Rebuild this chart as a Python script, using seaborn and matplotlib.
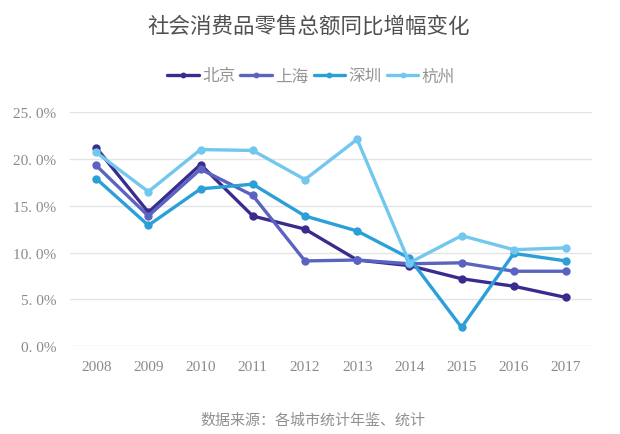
import pandas as pd
import matplotlib.pyplot as plt
import seaborn as sns

# 数据
years = [2008, 2009, 2010, 2011, 2012, 2013, 2014, 2015, 2016, 2017]
cities = ['北京', '上海', '深圳', '杭州']
beijing = [21.2, 14.3, 19.4, 13.9, 12.5, 9.2, 8.6, 7.2, 6.4, 5.2]
shanghai = [19.3, 13.9, 18.9, 16.1, 9.1, 9.2, 8.8, 8.9, 8.0, 8.0]
shenzhen = [17.9, 12.9, 16.8, 17.3, 13.9, 12.3, 9.4, 2.0, 9.9, 9.1]
hangzhou = [20.7, 16.5, 21.0, 20.9, 17.8, 22.1, 8.9, 11.8, 10.3, 10.5]
colors = ['#3a2c8e', '#5a63bf', '#2a9fd8', '#72c7ee']
yticks = [0, 5, 10, 15, 20, 25]

df = pd.DataFrame({'year': years * 4,
                   'city': sum([[c] * len(years) for c in cities], []),
                   'value': beijing + shanghai + shenzhen + hangzhou})

sns.set_style('white')
plt.rcParams['font.family'] = ['Noto Sans CJK SC', 'DejaVu Sans']

fig = plt.figure(figsize=(6.2, 4.35), dpi=100)
ax = fig.add_axes([0.113, 0.202, 0.842, 0.538])

sns.lineplot(data=df, x='year', y='value', hue='city', palette=colors,
             marker='o', markersize=6, markeredgewidth=0, linewidth=2.4, ax=ax)

ax.set_xlim(2007.5, 2017.5)
ax.set_ylim(0, 25)
ax.set_xticks(years)
ax.set_xticklabels([str(y) for y in years], family='Liberation Serif', fontsize=11, color='#8a8a8a')
ax.set_yticks(yticks)
ax.set_yticklabels(['%d. 0%%' % v for v in yticks], family='Liberation Serif', fontsize=11, color='#8a8a8a')
ax.tick_params(length=0, pad=10)
ax.yaxis.grid(True, color='#e4e4e4', linewidth=1)
for s in ax.spines.values():
    s.set_visible(False)
ax.set_xlabel('')
ax.set_ylabel('')

leg = ax.legend(loc='center', ncol=4, frameon=False, fontsize=12,
                handlelength=1.9, handletextpad=0.2, columnspacing=0.3,
                markerscale=0.7, labelcolor='#959595')
leg.set_bbox_to_anchor((311 / 620, 1 - 77 / 435), transform=fig.transFigure)

fig.text(309 / 620, 1 - 27 / 435, '社会消费品零售总额同比增幅变化', ha='center', va='center',
         fontsize=15.5, color='#505050')
fig.text(200 / 620, 1 - 421 / 435, '数据来源：各城市统计年鉴、统计', ha='left', va='center',
         fontsize=10.8, color='#909090')

fig.savefig('out.png', dpi=100)
